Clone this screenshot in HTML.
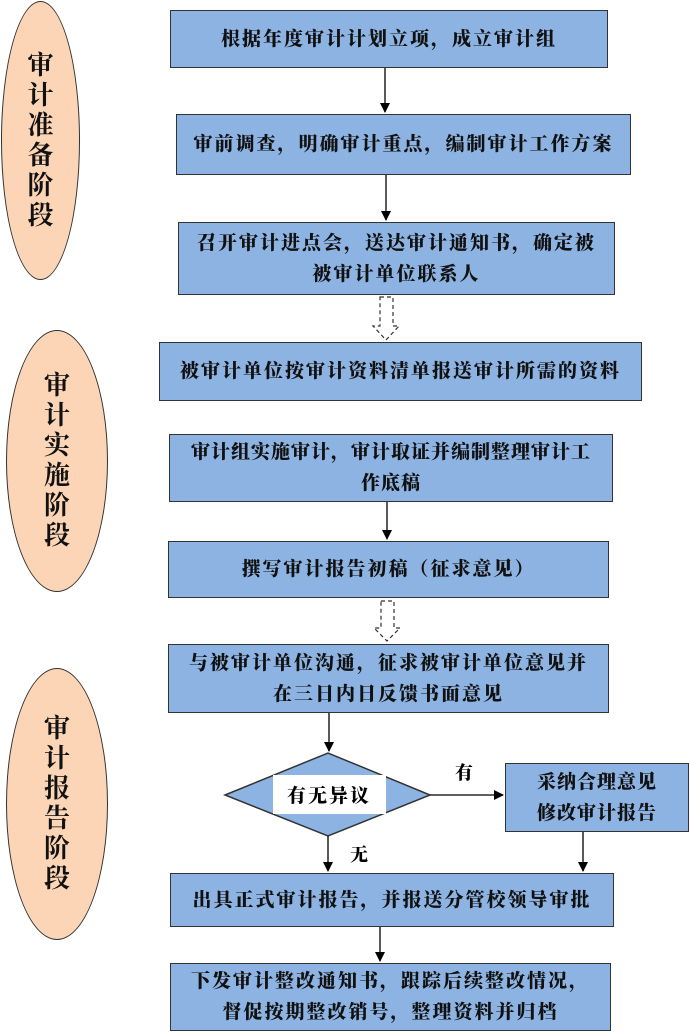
<!DOCTYPE html>
<html><head><meta charset="utf-8"><style>
body{margin:0;width:689px;height:1034px;background:#fff;position:relative;overflow:hidden;font-family:"Liberation Serif","Noto Serif CJK SC",serif;}
.b{position:absolute;background:#8db3e2;border:1.5px solid #333;box-sizing:border-box;display:flex;align-items:center;justify-content:center;text-align:center;font-size:19px;letter-spacing:2px;font-weight:900;line-height:31px;color:#111;white-space:nowrap;}
.e{position:absolute;background:#fbd5b5;border:1.5px solid #333;border-radius:50%;box-sizing:border-box;display:flex;align-items:center;justify-content:center;font-size:26px;font-weight:bold;line-height:30px;text-align:center;color:#111;}
.e span{width:30px;display:block;text-align:center}
.t{position:absolute;font-size:18px;font-weight:900;}
</style></head><body>
<div class="e" style="left:1px;top:1px;width:79px;height:279px"><span>审计准备阶段</span></div>
<div class="e" style="left:6px;top:330px;width:102px;height:262px"><span>审计实施阶段</span></div>
<div class="e" style="left:6px;top:668px;width:102px;height:272px"><span>审计报告阶段</span></div>

<div class="b" style="left:170px;top:10px;width:438px;height:58px">根据年度审计计划立项，成立审计组</div>
<div class="b" style="left:176px;top:114px;width:455px;height:61px">审前调查，明确审计重点，编制审计工作方案</div>
<div class="b" style="left:178px;top:222px;width:437px;height:73px">召开审计进点会，送达审计通知书，确定被<br>被审计单位联系人</div>
<div class="b" style="left:159px;top:342px;width:483px;height:59px">被审计单位按审计资料清单报送审计所需的资料</div>
<div class="b" style="left:169px;top:434px;width:444px;height:68px;letter-spacing:1px">审计组实施审计，审计取证并编制整理审计工<br>作底稿</div>
<div class="b" style="left:168px;top:541px;width:441px;height:57px">撰写审计报告初稿（征求意见）</div>
<div class="b" style="left:168px;top:644px;width:441px;height:69px">与被审计单位沟通，征求被审计单位意见并<br>在三日内日反馈书面意见</div>
<div class="b" style="left:505px;top:763px;width:184px;height:69px;letter-spacing:1px">采纳合理意见<br>修改审计报告</div>
<div class="b" style="left:170px;top:873px;width:444px;height:54px">出具正式审计报告，并报送分管校领导审批</div>
<div class="b" style="left:170px;top:963px;width:441px;height:68px">下发审计整改通知书，跟踪后续整改情况，<br>督促按期整改销号，整理资料并归档</div>

<svg width="689" height="1034" style="position:absolute;left:0;top:0" xmlns="http://www.w3.org/2000/svg">
<defs><marker id="a" markerWidth="10" markerHeight="10" refX="9" refY="5" orient="auto" markerUnits="userSpaceOnUse"><path d="M0,0 L10,5 L0,10 z" fill="#000"/></marker></defs>
<polygon points="225,795 328,753 430,795 328,836" fill="#8db3e2" stroke="#333" stroke-width="1.5"/>
<rect x="273" y="775" width="113" height="39" fill="#fff"/>
<text x="329" y="802" font-size="19" font-weight="900" letter-spacing="2" text-anchor="middle" font-family="Liberation Serif, Noto Serif CJK SC, serif">有无异议</text>
<g stroke="#000" stroke-width="1.3" fill="none" marker-end="url(#a)">
<line x1="385" y1="68" x2="385" y2="112"/>
<line x1="386" y1="175" x2="386" y2="220"/>
<line x1="387" y1="502" x2="387" y2="539"/>
<line x1="329" y1="713" x2="329" y2="751"/>
<line x1="430" y1="795" x2="503" y2="795"/>
<line x1="583" y1="832" x2="583" y2="871"/>
<line x1="328" y1="836" x2="328" y2="871"/>
<line x1="380" y1="927" x2="380" y2="961"/>
</g>
<g stroke="#333" stroke-width="1.2" fill="#fff" stroke-dasharray="4,3">
<path d="M380,297 L393,297 L393,326 L399,326 L386,340 L373,326 L380,326 Z"/>
<path d="M381,601 L394,601 L394,628 L400,628 L387,641 L374,628 L381,628 Z"/>
</g>
</svg>
<div class="t" style="left:455px;top:759px">有</div>
<div class="t" style="left:350px;top:841px">无</div>
</body></html>
